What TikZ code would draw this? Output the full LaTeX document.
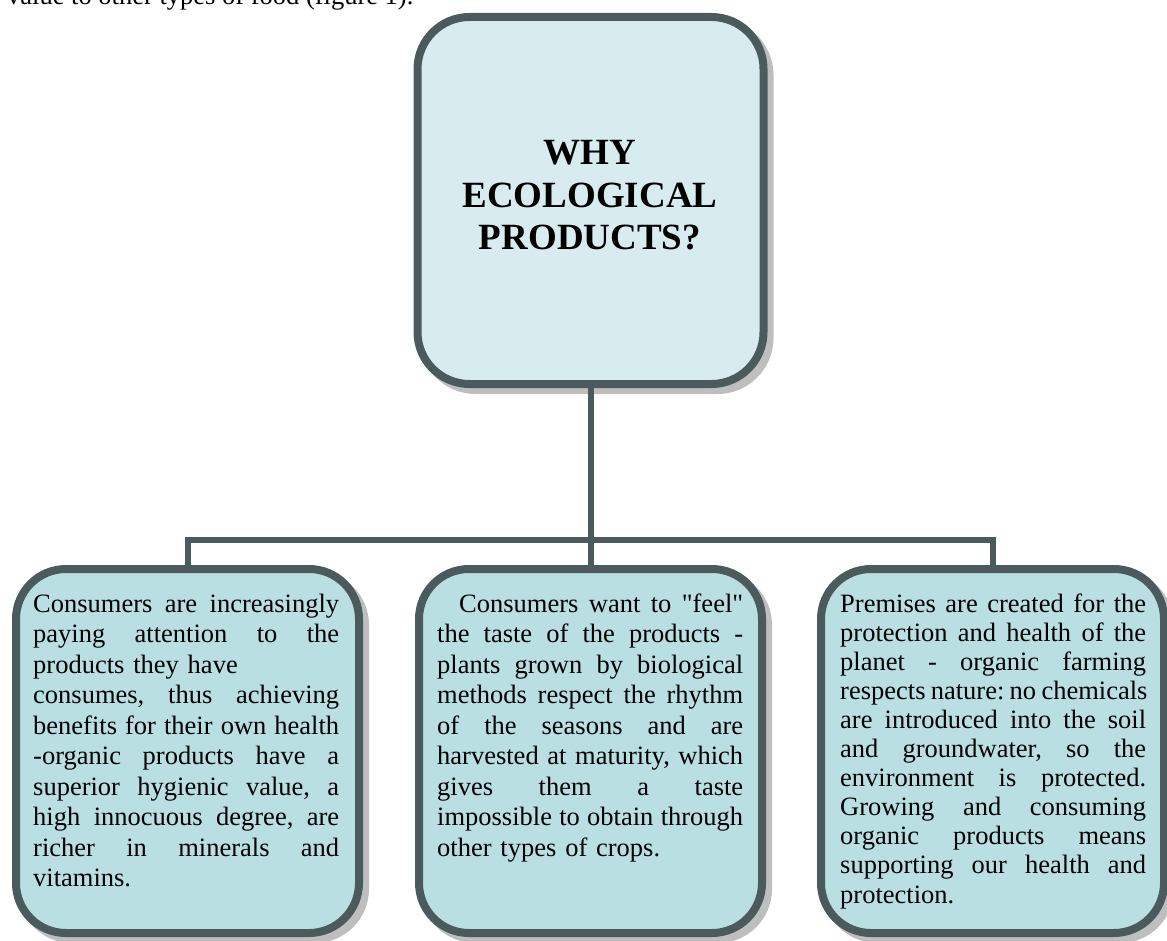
\documentclass[tikz,border=0pt]{standalone}
\usepackage{fontspec}
\setmainfont{Liberation Serif}[Ligatures=TeXOff]
\usetikzlibrary{shadows,calc}
\definecolor{topfill}{HTML}{D8ECEF}
\definecolor{boxfill}{HTML}{B9DFE3}
\definecolor{edgecol}{HTML}{4B5A5C}
\definecolor{shadecol}{HTML}{BEBEBE}
\newdimen\colw \colw=306pt
\newcommand\jl[1]{\hbox to\colw{\spaceskip=.25em plus 1fil minus .05em\relax #1}}
\newcommand\lastline[1]{\hbox{#1}}
\frenchspacing
\begin{document}
\begin{tikzpicture}[x=1pt,y=-1pt,
  card/.style={draw=edgecol, line width=8pt, inner sep=0pt,
    drop shadow={shadow xshift=6pt, shadow yshift=-6pt, draw=shadecol,
      fill=shadecol, line width=8pt, opacity=1}},
  topcard/.style={card, fill=topfill, rounded corners=52pt,
    minimum width=346pt, minimum height=367pt},
  subcard/.style={card, fill=boxfill, rounded corners=50pt,
    minimum width=343pt, minimum height=364pt},
  bodytext/.style={anchor=base west, text width=\colw, inner sep=0pt,
    font=\fontsize{26.5}{30.5}\selectfont},
  link/.style={draw=edgecol, line width=6pt}]
\useasboundingbox (0,0) rectangle (1167,941);

\node[anchor=base west, inner sep=0pt, font=\fontsize{26.5}{30.5}\selectfont]
  (prev) at (7,5) {value to other types of food (figure 1).};

\node[topcard] (top) at (590.5,200.5) {};
\node[anchor=base, text width=340pt, align=center, inner sep=0pt,
  font=\bfseries\fontsize{37}{42.5}\selectfont] (title) at (590,165)
  {WHY\\ECOLOGICAL\\PRODUCTS?};

\node[subcard] (left) at (187.5,751) {};
\node[subcard] (mid) at (590.5,751) {};
\node[subcard] (right) at (992.5,751) {};

\node[bodytext] (lefttext) at (33,612) {%
\jl{Consumers are increasingly}
\jl{paying attention to the}
\lastline{products they have}
\jl{consumes, thus achieving}
\jl{benefits for their own health}
\jl{-organic products have a}
\jl{superior hygienic value, a}
\jl{high innocuous degree, are}
\jl{richer in minerals and}
\lastline{vitamins.}};

\node[bodytext] (midtext) at (437,612) {%
\jl{\hspace*{22pt}Consumers want to "feel"}
\jl{the taste of the products -}
\jl{plants grown by biological}
\jl{methods respect the rhythm}
\jl{of the seasons and are}
\jl{harvested at maturity, which}
\jl{gives them a taste}
\jl{impossible to obtain through}
\lastline{other types of crops.}};

\node[bodytext, font=\fontsize{26.5}{29.1}\selectfont] (righttext) at (840,612) {%
\jl{Premises are created for the}
\jl{protection and health of the}
\jl{planet - organic farming}
\jl{respects nature: no chemicals}
\jl{are introduced into the soil}
\jl{and groundwater, so the}
\jl{environment is protected.}
\jl{Growing and consuming}
\jl{organic products means}
\jl{supporting our health and}
\lastline{protection.}};

\coordinate (bar) at (590.5,540);
\draw[link] (top.south) -- (bar);
\draw[link] (left.north) |- (bar) -| (right.north);
\draw[link] (mid.north) -- (bar);
\end{tikzpicture}
\end{document}
